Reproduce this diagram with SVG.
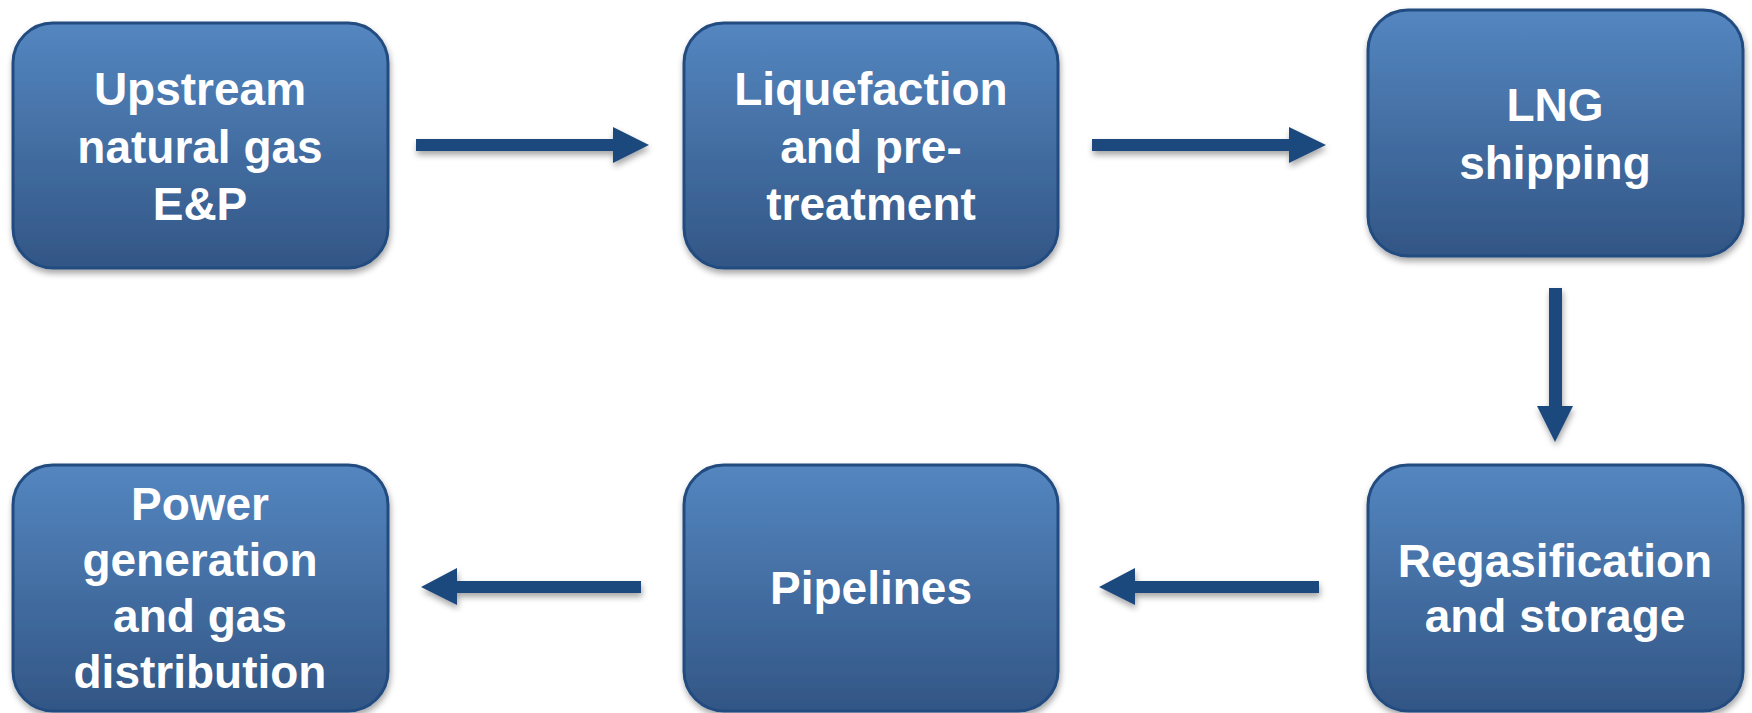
<svg xmlns="http://www.w3.org/2000/svg" width="1752" height="713" viewBox="0 0 1752 713">
<defs>
<linearGradient id="g" x1="0" y1="0" x2="0" y2="1">
<stop offset="0" stop-color="#5486C0"/>
<stop offset="1" stop-color="#325685"/>
</linearGradient>
<filter id="sh" x="-10%" y="-10%" width="125%" height="130%">
<feDropShadow dx="1" dy="4" stdDeviation="3" flood-color="#000" flood-opacity="0.35"/>
</filter>
</defs>
<style>
.box{fill:url(#g);stroke:#224B80;stroke-width:3;filter:url(#sh)}
.t{fill:#fff;font-family:"Liberation Sans",Arial,sans-serif;font-weight:bold;font-size:46px;text-anchor:middle}
.arr{fill:#1F497D;filter:url(#sh)}
</style>
<rect width="1752" height="713" fill="#fff"/>
<g id="connectors">
<polygon class="arr" points="416,139 613,139 613,127 649,145 613,163 613,151 416,151"/>
<polygon class="arr" points="1092,139 1289,139 1289,127 1326,145 1289,163 1289,151 1092,151"/>
<polygon class="arr" points="1549,288 1562,288 1562,406 1573,406 1555,442 1537,406 1549,406"/>
<polygon class="arr" points="1319,581 1135,581 1135,568 1099,587 1135,605 1135,593 1319,593"/>
<polygon class="arr" points="641,581 457,581 457,568 421,587 457,605 457,593 641,593"/>
</g>
<g id="n1">
<rect class="box" x="13" y="23" width="375" height="245" rx="40"/>
<text class="t" x="200" y="105">Upstream</text>
<text class="t" x="200" y="163">natural gas</text>
<text class="t" x="200" y="220">E&amp;P</text>
</g>
<g id="n2">
<rect class="box" x="684" y="23" width="374" height="245" rx="40"/>
<text class="t" x="871" y="105">Liquefaction</text>
<text class="t" x="871" y="163">and pre-</text>
<text class="t" x="871" y="220">treatment</text>
</g>
<g id="n3">
<rect class="box" x="1368" y="10" width="375" height="246" rx="40"/>
<text class="t" x="1555" y="121">LNG</text>
<text class="t" x="1555" y="179">shipping</text>
</g>
<g id="n4">
<rect class="box" x="1368" y="465" width="375" height="246" rx="40"/>
<text class="t" x="1555" y="577">Regasification</text>
<text class="t" x="1555" y="632">and storage</text>
</g>
<g id="n5">
<rect class="box" x="684" y="465" width="374" height="246" rx="40"/>
<text class="t" x="871" y="604">Pipelines</text>
</g>
<g id="n6">
<rect class="box" x="13" y="465" width="375" height="246" rx="40"/>
<text class="t" x="200" y="520">Power</text>
<text class="t" x="200" y="576">generation</text>
<text class="t" x="200" y="632">and gas</text>
<text class="t" x="200" y="688">distribution</text>
</g>
</svg>
